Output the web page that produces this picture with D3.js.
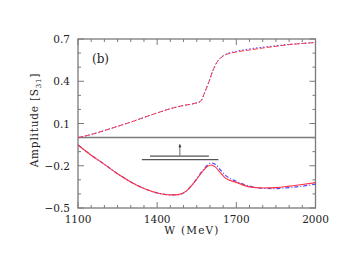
<!DOCTYPE html>
<html><head><meta charset="utf-8">
<script src="https://cdn.jsdelivr.net/npm/d3@7"></script>
<style>body{margin:0;background:#fff}svg{display:block}</style>
</head><body>
<script>
const xTicks = [1100, 1400, 1700, 2000];
const yTicks = [0.7, 0.4, 0.1, -0.2, -0.5];
const wUp = [1100,1150,1200,1250,1300,1350,1400,1450,1500,1540,1565,1580,1595,1610,1625,1640,1660,1700,1750,1800,1850,1900,1950,2000];
const redUp = [0.0,0.022,0.05,0.08,0.11,0.143,0.175,0.205,0.228,0.242,0.258,0.32,0.39,0.47,0.53,0.565,0.588,0.608,0.622,0.636,0.648,0.66,0.668,0.675];
const blueUp = [0.0,0.022,0.05,0.08,0.11,0.143,0.175,0.205,0.228,0.242,0.258,0.32,0.39,0.47,0.53,0.567,0.592,0.613,0.63,0.642,0.652,0.662,0.669,0.676];
const wLo = [1100,1150,1200,1250,1300,1350,1400,1450,1480,1510,1540,1570,1590,1605,1620,1640,1660,1700,1750,1800,1850,1900,1950,2000];
const redLo = [-0.053,-0.125,-0.19,-0.257,-0.315,-0.362,-0.393,-0.407,-0.405,-0.38,-0.32,-0.245,-0.205,-0.195,-0.208,-0.25,-0.29,-0.318,-0.35,-0.358,-0.355,-0.345,-0.333,-0.32];
const blueLo = [-0.053,-0.125,-0.19,-0.257,-0.315,-0.362,-0.393,-0.407,-0.405,-0.38,-0.318,-0.24,-0.197,-0.18,-0.19,-0.23,-0.27,-0.31,-0.345,-0.36,-0.362,-0.355,-0.345,-0.33];
// inset marker: two horizontal bars and an arrow
const barUpperW = [1373, 1596], barUpperY = -0.131;
const barLowerW = [1342, 1632], barLowerY = -0.157;
const arrowW = 1486, arrowY = [-0.128, -0.048];

const W = 349, H = 270;
const m = {l: 78, r: 315.5, t: 39, b: 208};
const svg = d3.select("body").append("svg").attr("width", W).attr("height", H);
const x = d3.scaleLinear().domain([1100, 2000]).range([m.l, m.r]);
const y = d3.scaleLinear().domain([-0.5, 0.7]).range([m.b, m.t]);
const axCol = "#7a7a7a";
const font = "'DejaVu Serif', serif";

// frame ticks (inward)
const xMinor = d3.range(1100, 2001, 50);
const yMinor = d3.range(-5, 8).map(d => d / 10);
const g = svg.append("g").attr("stroke", axCol).attr("stroke-width", 1);
xMinor.forEach(v => {
  const len = xTicks.includes(v) ? 6 : 3;
  g.append("line").attr("x1", x(v)).attr("x2", x(v)).attr("y1", m.b).attr("y2", m.b - len);
  g.append("line").attr("x1", x(v)).attr("x2", x(v)).attr("y1", m.t).attr("y2", m.t + len);
});
yMinor.forEach(v => {
  const len = yTicks.some(t => Math.abs(t - v) < 1e-9) ? 6 : 3;
  g.append("line").attr("x1", m.l).attr("x2", m.l + len).attr("y1", y(v)).attr("y2", y(v));
  g.append("line").attr("x1", m.r).attr("x2", m.r - len).attr("y1", y(v)).attr("y2", y(v));
});
svg.append("rect").attr("x", m.l).attr("y", m.t).attr("width", m.r - m.l).attr("height", m.b - m.t)
  .attr("fill", "none").attr("stroke", axCol).attr("stroke-width", 1.3);
// zero line
svg.append("line").attr("x1", m.l).attr("x2", m.r).attr("y1", y(0)).attr("y2", y(0))
  .attr("stroke", axCol).attr("stroke-width", 1.5);

// tick labels
svg.append("g").selectAll("text").data(xTicks).join("text")
  .attr("x", d => x(d)).attr("y", 223).attr("text-anchor", "middle")
  .attr("font-family", font).attr("font-size", 10.5).attr("fill", "#222").text(d => d);
svg.append("g").selectAll("text").data(yTicks).join("text")
  .attr("x", 70).attr("y", d => y(d) + 4).attr("text-anchor", "end")
  .attr("font-family", font).attr("font-size", 10.5).attr("fill", "#222")
  .text(d => d3.format(".1f")(d).replace("-", "\u2212"));

// axis titles
svg.append("text").attr("x", 192).attr("y", 234).attr("text-anchor", "middle")
  .attr("font-family", font).attr("font-size", 10.5).attr("letter-spacing", 1.2).attr("fill", "#222")
  .text("W (MeV)");
const yl = svg.append("text").attr("transform", "translate(38,120) rotate(-90)").attr("text-anchor", "middle")
  .attr("font-family", font).attr("font-size", 10.5).attr("letter-spacing", 0.8).attr("fill", "#222");
yl.append("tspan").text("Amplitude [S");
yl.append("tspan").attr("font-size", 7).attr("dy", 3).text("31");
yl.append("tspan").attr("dy", -3).text("]");

svg.append("text").attr("x", 92).attr("y", 63).attr("font-family", font).attr("font-size", 12)
  .attr("fill", "#222").text("(b)");

// inset bars & arrow
svg.append("line").attr("x1", x(barUpperW[0])).attr("x2", x(barUpperW[1])).attr("y1", y(barUpperY)).attr("y2", y(barUpperY))
  .attr("stroke", "#555").attr("stroke-width", 1.3);
svg.append("line").attr("x1", x(barLowerW[0])).attr("x2", x(barLowerW[1])).attr("y1", y(barLowerY)).attr("y2", y(barLowerY))
  .attr("stroke", "#555").attr("stroke-width", 1.3);
svg.append("line").attr("x1", x(arrowW)).attr("x2", x(arrowW)).attr("y1", y(arrowY[0])).attr("y2", y(arrowY[1]))
  .attr("stroke", "#666").attr("stroke-width", 1);
svg.append("path").attr("d", `M${x(arrowW)-1.5},${y(arrowY[1])+3}L${x(arrowW)},${y(arrowY[1])}L${x(arrowW)+1.5},${y(arrowY[1])+3}Z`)
  .attr("fill", "#333");

// curves
const line = d3.line().x(d => x(d[0])).y(d => y(d[1])).curve(d3.curveMonotoneX);
const zip = (a, b) => a.map((v, i) => [v, b[i]]);
const red = "#ff3344", blue = "#4a4aff";
svg.append("path").attr("d", line(zip(wUp, blueUp))).attr("fill", "none").attr("stroke", blue)
  .attr("stroke-width", 1).attr("stroke-dasharray", "1.5,2");
svg.append("path").attr("d", line(zip(wUp, redUp))).attr("fill", "none").attr("stroke", red)
  .attr("stroke-width", 1).attr("stroke-dasharray", "5,2");
svg.append("path").attr("d", line(zip(wLo, blueLo))).attr("fill", "none").attr("stroke", blue)
  .attr("stroke-width", 1.2).attr("stroke-dasharray", "4,2,1,2");
svg.append("path").attr("d", line(zip(wLo, redLo))).attr("fill", "none").attr("stroke", red)
  .attr("stroke-width", 1.1);
</script>
</body></html>
